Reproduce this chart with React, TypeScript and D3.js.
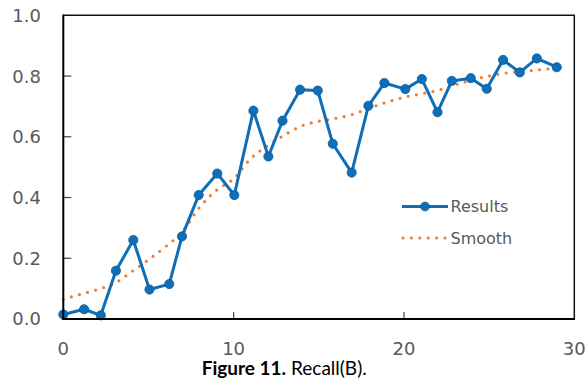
import React from "react";
import * as d3 from "d3";

// Recall per run (x position, recall value)
const runX = [
  0, 1.22, 2.2, 3.09, 4.11, 5.06, 6.22, 6.97, 7.95, 9.04,
  10.04, 11.16, 12.04, 12.87, 13.9, 14.94, 15.82, 16.93, 17.91, 18.85,
  20.08, 21.05, 21.97, 22.81, 23.92, 24.86, 25.82, 26.8, 27.8, 28.97,
];
const recall = [
  0.015, 0.032, 0.012, 0.159, 0.26, 0.097, 0.115, 0.272, 0.408, 0.479,
  0.408, 0.686, 0.535, 0.653, 0.755, 0.752, 0.577, 0.482, 0.702, 0.777,
  0.757, 0.79, 0.681, 0.784, 0.793, 0.758, 0.853, 0.812, 0.858, 0.829,
];

// Smoothed trend sampled at whole x steps
const smoothX = d3.range(0, 30);
const smooth = [
  0.065, 0.081, 0.097, 0.117, 0.155, 0.195, 0.238, 0.288, 0.368, 0.424,
  0.462, 0.528, 0.571, 0.606, 0.636, 0.651, 0.661, 0.674, 0.695, 0.714,
  0.73, 0.741, 0.753, 0.771, 0.787, 0.8, 0.81, 0.815, 0.821, 0.826,
];

const xTicks = [0, 10, 20, 30];
const yTicks = [0, 0.2, 0.4, 0.6, 0.8, 1.0];
const seriesNames = ["Results", "Smooth"];

const W = 588;
const H = 385;
const BLUE = "#0E6EB8";
const ORANGE = "#ED7D31";
const GREY = "#595959";
const TICK_FONT = "'DejaVu Sans', sans-serif";

export default function App() {
  const x = d3.scaleLinear().domain([0, 30]).range([63.3, 574.3]);
  const y = d3.scaleLinear().domain([0, 1]).range([319, 15.3]);

  const resultsLine = d3
    .line<number>()
    .x((_, i) => x(runX[i]))
    .y((d) => y(d))(recall) as string;

  const smoothLine = d3
    .line<number>()
    .x((_, i) => x(smoothX[i]))
    .y((d) => y(d))
    .curve(d3.curveMonotoneX)(smooth) as string;

  const left = x(0);
  const right = x(30);
  const top = y(1);
  const bottom = y(0);

  return (
    <svg
      width={W}
      height={H}
      style={{ position: "absolute", left: 0, top: 0, background: "#fff" }}
    >
      {/* plot frame */}
      <line x1={left} x2={right + 0.5} y1={top} y2={top} stroke="#111" strokeWidth={1.5} />
      <line x1={right} x2={right} y1={top} y2={bottom} stroke="#111" strokeWidth={1.5} />

      {/* y ticks and labels */}
      {yTicks.map((t) => (
        <g key={`y${t}`}>
          {t > 0 && t < 1 && (
            <line x1={left} x2={left + 8} y1={y(t)} y2={y(t)} stroke="#444" strokeWidth={1.2} />
          )}
          <text
            x={41}
            y={y(t)}
            dy="0.36em"
            textAnchor="end"
            fontFamily={TICK_FONT}
            fontSize={18}
            fill={GREY}
          >
            {d3.format(".1f")(t)}
          </text>
        </g>
      ))}

      {/* x ticks and labels */}
      {xTicks.map((t) => (
        <g key={`x${t}`}>
          {t > 0 && t < 30 && (
            <line x1={x(t)} x2={x(t)} y1={bottom} y2={bottom - 7} stroke="#444" strokeWidth={1.2} />
          )}
          <text
            x={x(t)}
            y={355}
            textAnchor="middle"
            fontFamily={TICK_FONT}
            fontSize={18}
            fill={GREY}
          >
            {t}
          </text>
        </g>
      ))}

      {/* smoothed trend */}
      <path
        d={smoothLine}
        fill="none"
        stroke={ORANGE}
        strokeWidth={3.2}
        strokeLinecap="round"
        strokeDasharray="0 8.4"
      />

      {/* results */}
      <path d={resultsLine} fill="none" stroke={BLUE} strokeWidth={3} strokeLinejoin="round" />
      {recall.map((v, i) => (
        <circle
          key={i}
          cx={x(runX[i])}
          cy={y(v)}
          r={4.6}
          fill={BLUE}
          stroke="#0B5C9A"
          strokeWidth={0.8}
        />
      ))}

      {/* axes */}
      <line x1={left} x2={left} y1={top - 0.7} y2={bottom + 1} stroke="#000" strokeWidth={2} />
      <line x1={left - 1} x2={right + 0.7} y1={bottom} y2={bottom} stroke="#000" strokeWidth={2} />

      {/* legend */}
      <g>
        <line x1={402} x2={448} y1={206.5} y2={206.5} stroke={BLUE} strokeWidth={3} />
        <circle cx={425} cy={206.5} r={4.4} fill={BLUE} stroke="#0B5C9A" strokeWidth={0.8} />
        <text x={450.5} y={212} fontFamily={TICK_FONT} fontSize={16} fill={GREY}>
          {seriesNames[0]}
        </text>
        <line
          x1={403}
          x2={446}
          y1={238}
          y2={238}
          stroke={ORANGE}
          strokeWidth={3.2}
          strokeLinecap="round"
          strokeDasharray="0 8.4"
        />
        <text x={450.5} y={244} fontFamily={TICK_FONT} fontSize={16} fill={GREY}>
          {seriesNames[1]}
        </text>
      </g>

      {/* caption */}
      <text x={201.7} y={374.5} fontFamily="Lato, 'Liberation Sans', sans-serif" fontSize={19} fill="#000">
        <tspan fontWeight="bold">Figure 11.</tspan>
        <tspan> Recall(B).</tspan>
      </text>
    </svg>
  );
}
